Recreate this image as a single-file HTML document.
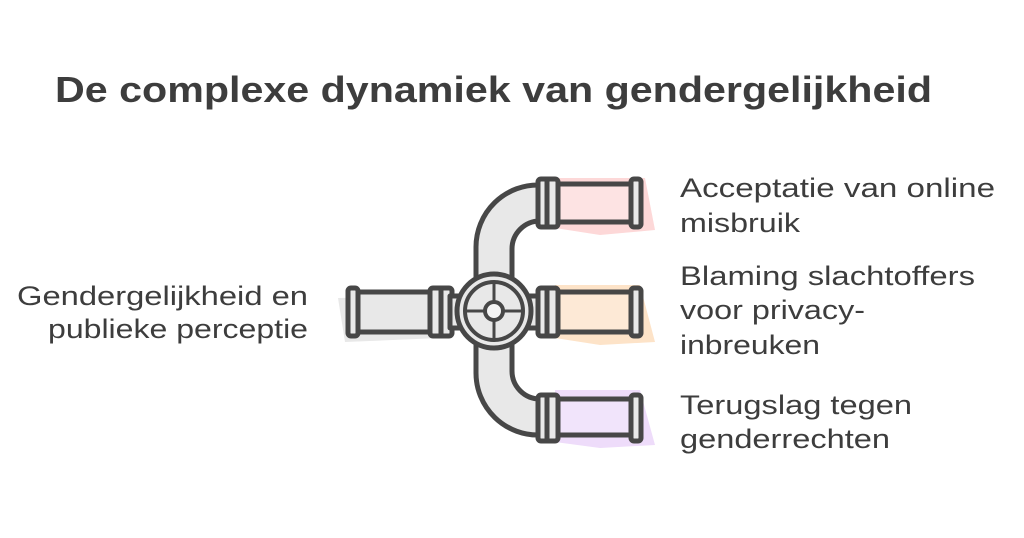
<!DOCTYPE html>
<html><head><style>body{margin:0;background:#fff}</style></head><body>
<svg width="1024" height="533" viewBox="0 0 1024 533" xmlns="http://www.w3.org/2000/svg">
<rect width="1024" height="533" fill="#fff"/>
<g font-family="Liberation Sans, sans-serif" fill="#3d3d3d">
<text x="55" y="102" font-size="36" font-weight="bold" textLength="877" lengthAdjust="spacingAndGlyphs">De complexe dynamiek van gendergelijkheid</text>
<g font-size="27">
<text x="680" y="197" textLength="315" lengthAdjust="spacingAndGlyphs">Acceptatie van online</text>
<text x="680" y="232" textLength="120" lengthAdjust="spacingAndGlyphs">misbruik</text>
<text x="680" y="285" textLength="295" lengthAdjust="spacingAndGlyphs">Blaming slachtoffers</text>
<text x="680" y="319" textLength="185" lengthAdjust="spacingAndGlyphs">voor privacy-</text>
<text x="680" y="354" textLength="140" lengthAdjust="spacingAndGlyphs">inbreuken</text>
<text x="680" y="414" textLength="232" lengthAdjust="spacingAndGlyphs">Terugslag tegen</text>
<text x="680" y="448" textLength="210" lengthAdjust="spacingAndGlyphs">genderrechten</text>
<text x="17" y="305" textLength="291" lengthAdjust="spacingAndGlyphs">Gendergelijkheid en</text>
<text x="48" y="338" textLength="260" lengthAdjust="spacingAndGlyphs">publieke perceptie</text>
</g></g>
<!-- colored washes -->
<polygon points="555,178 645,178 655,230 600,235 555,228" fill="#fdd8d8"/>
<polygon points="555,285 640,285 655,342 600,345 555,338" fill="#fde3c8"/>
<polygon points="555,390 640,390 655,445 600,448 555,442" fill="#eedcfa"/>
<polygon points="338,298 440,296 440,338 345,342" fill="#e8e8e8"/>
<g stroke="#474747" stroke-width="5" stroke-linejoin="round" stroke-linecap="round">
<path d="M540,185 A62,62 0 0 0 476,247 L476,373 A62,62 0 0 0 540,435 L540,399 A28,28 0 0 1 512,371 L512,249 A28,28 0 0 1 540,221 Z" fill="#e8e8e8"/>
<rect x="355" y="292" width="80" height="40" fill="#e8e8e8"/>
<rect x="348" y="288" width="10" height="48" rx="3" fill="#e8e8e8"/>
<rect x="430" y="288" width="22" height="48" rx="3" fill="#e8e8e8"/>
<line x1="441" y1="290" x2="441" y2="334"/>
<rect x="450" y="296" width="12" height="32" fill="#e8e8e8"/>
<rect x="528" y="296" width="14" height="32" fill="#e8e8e8"/>
<rect x="556" y="184" width="80" height="38" fill="#fde3e3"/>
<rect x="556" y="292" width="80" height="40" fill="#fde9d6"/>
<rect x="556" y="399" width="80" height="36" fill="#f1e4fb"/>
<g fill="#e8e8e8">
<rect x="538" y="179" width="20" height="48" rx="3"/>
<rect x="538" y="288" width="20" height="48" rx="3"/>
<rect x="538" y="395" width="20" height="46" rx="3"/>
<rect x="631" y="179" width="10" height="48" rx="3"/>
<rect x="631" y="288" width="10" height="48" rx="3"/>
<rect x="631" y="395" width="10" height="46" rx="3"/>
</g>
<line x1="547" y1="181" x2="547" y2="225"/>
<line x1="547" y1="290" x2="547" y2="334"/>
<line x1="547" y1="397" x2="547" y2="439"/>
<circle cx="494" cy="311" r="37" fill="#e8e8e8"/>
<circle cx="494" cy="311" r="29" fill="#e8e8e8" stroke-width="4"/>
<g stroke-width="3"><line x1="465" y1="311" x2="523" y2="311"/><line x1="494" y1="282" x2="494" y2="340"/></g>
<circle cx="494" cy="311" r="9" fill="#f4f4f4" stroke-width="4"/>
</g>
</svg>
</body></html>
